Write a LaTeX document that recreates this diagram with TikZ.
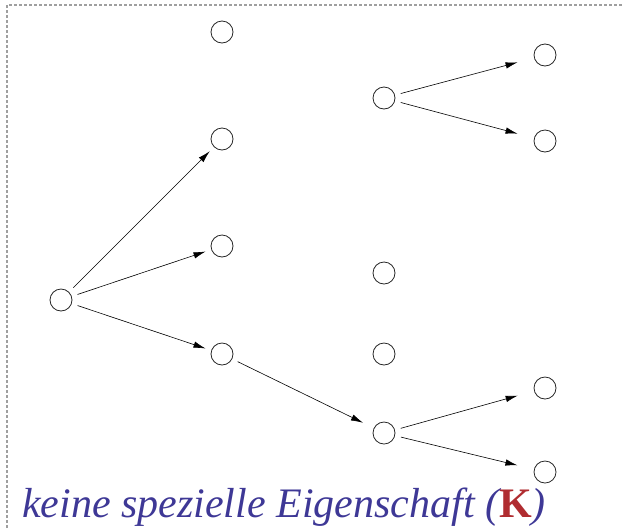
\documentclass[tikz,border=0pt]{standalone}
\usepackage{fontspec}
\setmainfont{Liberation Serif}
\usetikzlibrary{arrows.meta}
\definecolor{textblue}{RGB}{62,56,150}
\definecolor{kred}{RGB}{176,44,48}
\tikzset{
    state/.style={circle, draw=black!85, line width=0.8pt, minimum size=22pt, inner sep=0pt},
    edge/.style={->, line width=0.6pt, shorten <=6pt, shorten >=6pt}
}
\begin{document}
\begin{tikzpicture}[
        x=1pt,
        y=-1pt,
        >={Latex[length=12pt,width=6.5pt]}]
\useasboundingbox (0,0) rectangle (623,528);
\draw[gray!75, line width=1.1pt, dash pattern=on 3pt off 2pt] (7,528)--(7,5)--(623,5);
% states
\node[state] (root) at (61,300) {};
\node[state] (a1) at (222,32) {};
\node[state] (a2) at (222,139) {};
\node[state] (a3) at (222,246) {};
\node[state] (a4) at (222,354) {};
\node[state] (b1) at (384,98) {};
\node[state] (b2) at (384,273) {};
\node[state] (b3) at (384,354) {};
\node[state] (b4) at (384,433) {};
\node[state] (c1) at (545,55) {};
\node[state] (c2) at (545,141) {};
\node[state] (c3) at (545,388) {};
\node[state] (c4) at (545,472) {};
% transitions
\foreach \From/\To in {root/a2, root/a3, root/a4}{
    \draw[edge] (\From)--(\To);
}
\draw[edge, shorten >=12pt] (a4)--(b4);
\foreach \From/\To in {b1/c1, b1/c2, b4/c3, b4/c4}{
    \draw[edge, shorten >=17pt] (\From)--(\To);
}
\node (caption) [anchor=base west, inner sep=0pt, text=textblue, font=\fontsize{42}{46}\selectfont\itshape]
    at (22,517) {keine spezielle Eigenschaft (\textcolor{kred}{\upshape\bfseries K})};
\end{tikzpicture}
\end{document}
